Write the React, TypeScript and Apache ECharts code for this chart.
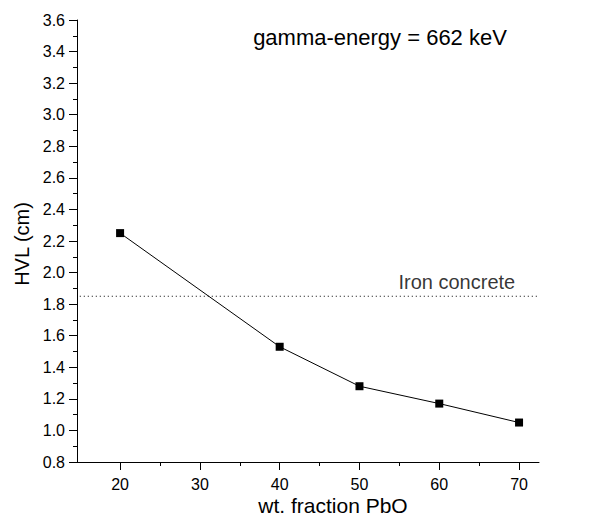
import React, { useEffect, useRef } from "react";
import * as echarts from "echarts";

const xValues = [20, 40, 50, 60, 70];
const hvlValues = [2.25, 1.53, 1.28, 1.17, 1.05];
const refX = [14.95, 72.3];
const refY = [1.85, 1.85];
const refLabelPos = [62.2, 1.85];
const xMajorTicks = [20, 30, 40, 50, 60, 70];
const xMinorTicks = [25, 35, 45, 55, 65];
const refLabel = "Iron concrete";
const titleText = "gamma-energy = 662 keV";
const xName = "wt. fraction PbO";
const yName = "HVL (cm)";

const FONT = "'Liberation Sans', Arial, sans-serif";

export default function App() {
  const ref = useRef<HTMLDivElement>(null);
  useEffect(() => {
    if (!ref.current) return;
    const chart = echarts.init(ref.current, undefined, { renderer: "svg" });
    const grid = { left: 77, right: 65, top: 20, bottom: 62, containLabel: false };
    const baseX = {
      type: "value" as const,
      min: 14.6,
      max: 72.5,
      gridIndex: 0,
      position: "bottom" as const,
      splitLine: { show: false },
    };
    chart.setOption({
      animation: false,
      backgroundColor: "#ffffff",
      textStyle: { fontFamily: FONT },
      grid,
      xAxis: [
        {
          ...baseX,
          axisLine: { show: true, lineStyle: { color: "#000", width: 1 } },
          axisTick: { show: true, customValues: xMajorTicks, length: 8, lineStyle: { color: "#000", width: 1 } },
          axisLabel: {
            show: true,
            customValues: xMajorTicks,
            color: "#000",
            fontSize: 16,
            fontFamily: FONT,
            margin: 14,
          },
        },
        {
          ...baseX,
          axisLine: { show: false },
          axisTick: { show: true, customValues: xMinorTicks, length: 4, lineStyle: { color: "#000", width: 1 } },
          axisLabel: { show: false },
        },
      ],
      yAxis: {
        type: "value",
        min: 0.8,
        max: 3.6,
        interval: 0.2,
        splitLine: { show: false },
        axisLine: { show: true, lineStyle: { color: "#000", width: 1 } },
        axisTick: { show: true, length: 8, lineStyle: { color: "#000", width: 1 } },
        minorTick: { show: true, splitNumber: 2, length: 4, lineStyle: { color: "#000", width: 1 } },
        axisLabel: {
          color: "#000",
          fontSize: 16,
          fontFamily: FONT,
          margin: 12,
          formatter: (v: number) => v.toFixed(1),
        },
      },
      graphic: [
        {
          type: "text",
          x: 380,
          y: 37,
          style: {
            text: titleText,
            fontSize: 22,
            fontFamily: FONT,
            fill: "#000",
            align: "center",
            verticalAlign: "middle",
          },
        },
        {
          type: "text",
          x: 333,
          y: 505,
          style: {
            text: xName,
            fontSize: 21,
            fontFamily: FONT,
            fill: "#000",
            align: "center",
            verticalAlign: "middle",
          },
        },
        {
          type: "text",
          x: 22,
          y: 244,
          rotation: Math.PI / 2,
          style: {
            text: yName,
            fontSize: 20,
            fontFamily: FONT,
            fill: "#000",
            align: "center",
            verticalAlign: "middle",
          },
        },
      ],
      series: [
        {
          type: "line",
          data: refX.map((x, i) => [x, refY[i]]),
          symbol: "none",
          lineStyle: { color: "#000", width: 1, type: [1, 3] },
          silent: true,
          z: 1,
        },
        {
          type: "scatter",
          data: [refLabelPos],
          symbolSize: 0,
          silent: true,
          label: {
            show: true,
            position: "top",
            distance: 4,
            formatter: refLabel,
            color: "#000",
            fontSize: 20,
            fontFamily: FONT,
          },
        },
        {
          type: "line",
          data: xValues.map((x, i) => [x, hvlValues[i]]),
          symbol: "rect",
          symbolSize: 8,
          itemStyle: { color: "#000", borderWidth: 0 },
          lineStyle: { color: "#000", width: 1 },
          z: 3,
        },
      ],
    });
    return () => chart.dispose();
  }, []);
  return (
    <div
      ref={ref}
      style={{ position: "absolute", left: 0, top: 0, width: 604, height: 524 }}
    />
  );
}
